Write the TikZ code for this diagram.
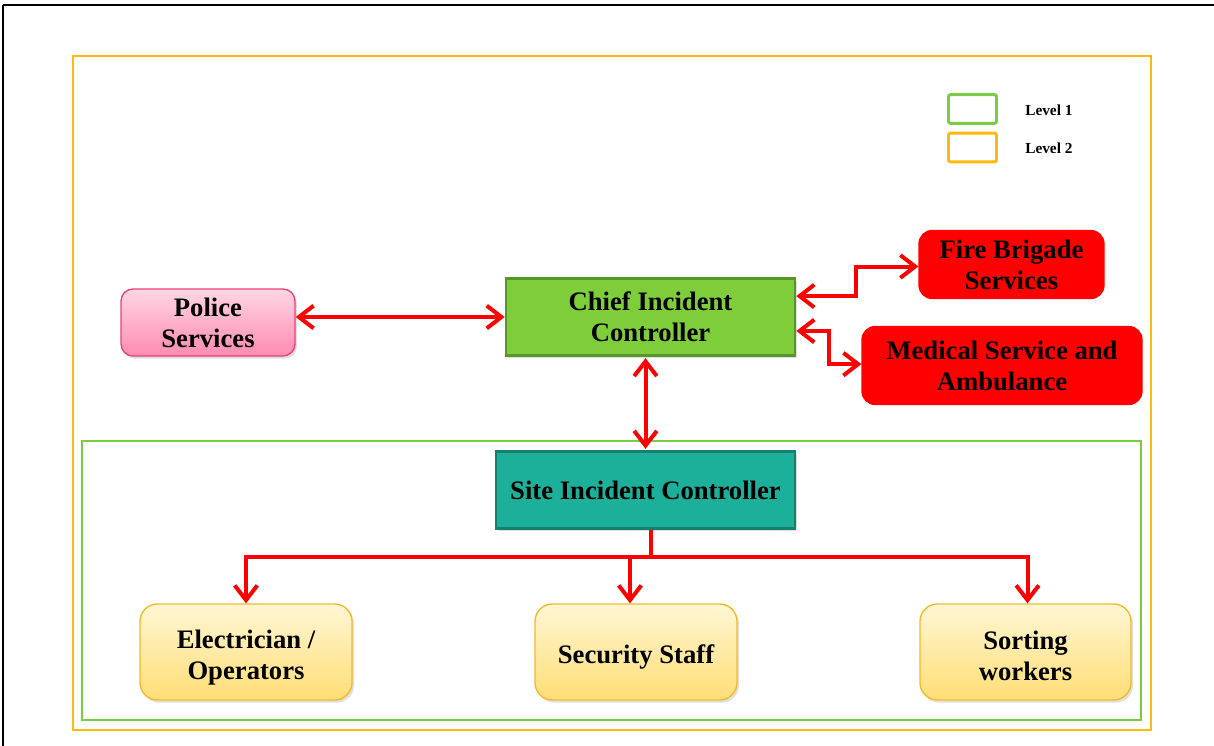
\documentclass[tikz,border=0pt]{standalone}
\usepackage{fontspec}
\setmainfont{Liberation Serif}
\usepackage{tikz}
\usetikzlibrary{arrows.meta,shadows}
\definecolor{lvlgreen}{RGB}{122,204,64}
\definecolor{lvlorange}{RGB}{255,185,15}
\definecolor{chiefgreen}{RGB}{126,206,59}
\definecolor{chiefedge}{RGB}{88,150,42}
\definecolor{siteteal}{RGB}{28,176,155}
\definecolor{siteedge}{RGB}{22,128,112}
\definecolor{pinktop}{RGB}{255,214,228}
\definecolor{pinkbot}{RGB}{255,138,178}
\definecolor{pinkedge}{RGB}{232,64,122}
\definecolor{ambertop}{RGB}{255,246,212}
\definecolor{amberbot}{RGB}{255,222,118}
\definecolor{amberedge}{RGB}{245,185,40}

\begin{document}
\begin{tikzpicture}[x=0.75pt, y=-0.75pt, >={Straight Barb[length=11pt,width=17pt]},
    flow/.style={draw=red, line width=3pt},
    txt/.style={align=center, inner sep=0pt, font=\bfseries\fontsize{20}{23.25}\selectfont},
    shade/.style={drop shadow={opacity=0.25, shadow xshift=1.5pt, shadow yshift=-2pt}},
    staffbox/.style={shade, draw=amberedge, line width=1pt, rounded corners=13pt, top color=ambertop,
      bottom color=amberbot, minimum height=72pt},
    keybox/.style={draw, line width=2.2pt, rounded corners=1.5pt, minimum width=36pt, minimum height=21.5pt},
    keytxt/.style={anchor=west, inner sep=0pt, font=\bfseries\fontsize{11.5}{13}\selectfont}]
    \useasboundingbox (0,0) rectangle (1214,746);

    % page edge
    \draw[line width=2.2pt] (3,5) -- (1214,5);
    \draw[line width=1pt] (3,5) -- (3,746);

    % level frames
    \draw[lvlorange, line width=2.2pt] (73,56) rectangle (1151,730);
    \draw[lvlgreen, line width=2pt] (82,441) rectangle (1141,720);

    \node[keybox, draw=lvlgreen] (keyone) at (972.5,109) {};
    \node[keybox, draw=lvlorange] (keytwo) at (972.5,147.5) {};
    \node[keytxt] (lblone) at (1025,110) {Level 1};
    \node[keytxt] (lbltwo) at (1025,148) {Level 2};

    \node[txt, shade, draw=pinkedge, line width=1pt, rounded corners=9pt, top color=pinktop, bottom color=pinkbot,
      minimum width=130.5pt, minimum height=50.25pt] (police) at (208,322.5) {Police\\Services};
    \node[txt, shade, draw=chiefedge, line width=2pt, fill=chiefgreen,
      minimum width=216.75pt, minimum height=57.75pt] (chief) at (650.5,317) {Chief Incident\\Controller};
    \node[txt, draw=red, fill=red, line width=1pt, rounded corners=10pt,
      minimum width=138.75pt, minimum height=51pt] (fire) at (1011.5,264.5) {Fire Brigade\\Services};
    \node[txt, draw=red, fill=red, line width=1pt, rounded corners=10pt,
      minimum width=210pt, minimum height=58.5pt] (medic) at (1002,365.5) {Medical Service and\\Ambulance};
    \node[txt, shade, draw=siteedge, line width=2pt, fill=siteteal,
      minimum width=224.25pt, minimum height=57.75pt] (site) at (645.5,490) {Site Incident Controller};

    \node[staffbox, minimum width=159pt] (elec) at (246,652) {};
    \node[staffbox, minimum width=151.5pt] (secu) at (636,652) {};
    \node[staffbox, minimum width=158.25pt] (sort) at (1025.5,652) {};
    \node[txt] (electxt) at ([yshift=-4pt]elec.center) {Electrician /\\Operators};
    \node[txt] (secutxt) at ([yshift=-4pt]secu.center) {Security Staff};
    \node[txt] (sorttxt) at ([yshift=-3pt]sort.center) {Sorting\\workers};

    \draw[flow, <->] (police.east |- chief.west) -- (chief.west);
    \draw[flow, <->] ([yshift=15.7pt]chief.east) -- ++(60,0) |- ([yshift=-1.5pt]fire.west);
    \draw[flow, <->] ([yshift=-10.5pt]chief.east) -- ++(33,0) |- ([yshift=1pt]medic.west);
    \draw[flow, <->] ([yshift=-1pt]chief.south -| site.north) -- ([yshift=1pt]site.north);

    \draw[flow] ([xshift=4pt]site.south) -- ++(0,27.5) coordinate (bus);
    \draw[flow, ->] (bus) -| (elec.north);
    \draw[flow, ->] (bus) -| ([xshift=-4.5pt]secu.north);
    \draw[flow, ->] (bus) -| ([xshift=1.5pt]sort.north);
\end{tikzpicture}
\end{document}
